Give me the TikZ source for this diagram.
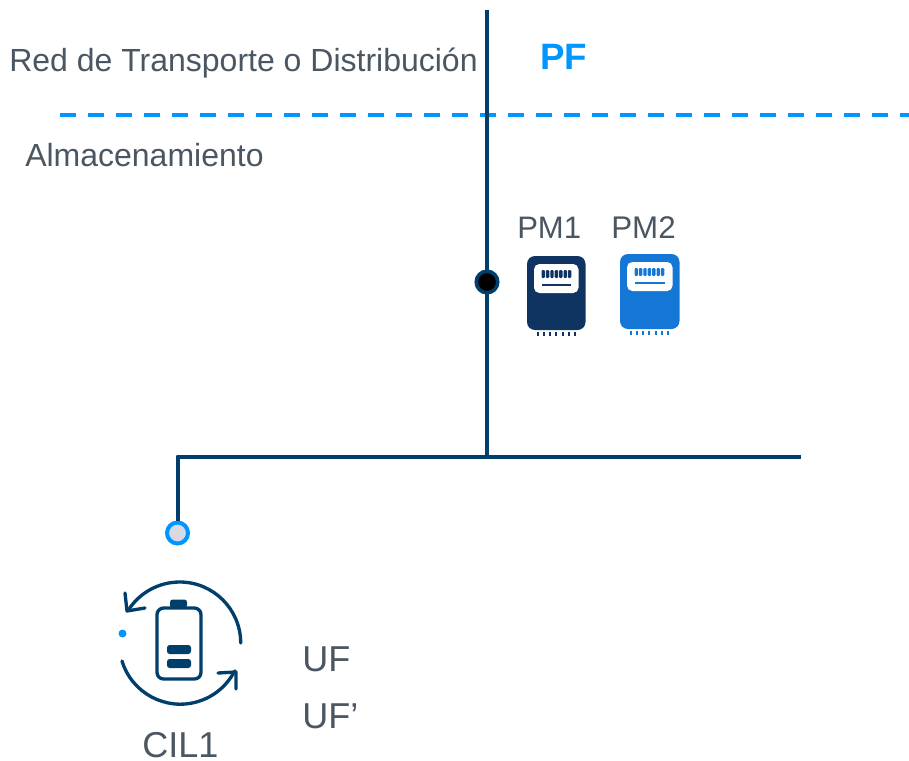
\documentclass[tikz,border=0pt]{standalone}
\usepackage{fontspec}
\setmainfont{Liberation Sans}
\definecolor{navy}{HTML}{003F6B}
\definecolor{skyb}{HTML}{0096FF}
\definecolor{txt}{HTML}{4A5661}
\definecolor{pmone}{HTML}{103461}
\definecolor{pmtwo}{HTML}{1477D6}
\definecolor{soft}{HTML}{D9D9E3}
\newcommand{\meter}[5]{% x, y (top-left), width, height, colour
  \begin{scope}[shift={(#1,#2)}]
    \fill[#5,rounded corners=6] (0,0) rectangle (#3,#4);
    \fill[white,rounded corners=4] (7,8) rectangle (#3-7,37);
    \foreach \k in {0,...,6}{
      \fill[#5,rounded corners=0.8] (14.5+\k*4.4,14) rectangle ++(3.4,8);
      \fill[#5] (9.5+\k*6.3,#4+1.5) rectangle ++(2,4);
    }
    \draw[#5,line width=1.6pt] (15,29) -- (#3-15,29);
  \end{scope}}
\tikzset{
  x=0.75pt,y=-0.75pt,
  lbl/.style={anchor=base west,inner sep=0pt,text=txt},
  busline/.style={navy,line width=3pt},
  iconline/.style={navy,line width=2.5pt,line cap=round,line join=round},
}
\begin{document}
\begin{tikzpicture}
\useasboundingbox (0,0) rectangle (909,760);
\coordinate (top) at (487,10);
\coordinate (tee) at (487,456);
\coordinate (busL) at (177.5,456.5);
\coordinate (busR) at (801,456.5);
\coordinate (dashL) at (59.5,114.5);
\coordinate (dashR) at (909,114.5);
\draw[skyb,line width=3pt,dash pattern=on 12pt off 9pt] (dashL) -- (dashR);
\draw[busline] (top) -- (tee);
\node[circle,draw=skyb,fill=soft,line width=3pt,minimum size=21*0.75pt,inner sep=0pt] (term) at (177.5,533) {};
\draw[busline,line join=round] (term) -- (busL) -- (busR);
\node[circle,draw=navy,fill=black,line width=2.7pt,minimum size=21.5*0.75pt,inner sep=0pt] (pcc) at (487,282) {};

\node[lbl,font=\fontsize{24}{28}\selectfont] (red) at (9,71) {Red de Transporte o Distribución};
\node[lbl,font=\fontsize{27.5}{32}\selectfont\bfseries,text=skyb] (pf) at (540,69) {PF};
\node[lbl,font=\fontsize{24}{28}\selectfont] (alm) at (25,166) {Almacenamiento};
\node[lbl,font=\fontsize{23.3}{28}\selectfont] (pm1) at (517,238.5) {PM1};
\node[lbl,font=\fontsize{23.5}{28}\selectfont] (pm2) at (611,238.5) {PM2};
\node[lbl,font=\fontsize{27}{32}\selectfont] (uf) at (302,671) {UF};
\node[lbl,font=\fontsize{27}{32}\selectfont] (ufp) at (302,728) {UF’};
\node[lbl,font=\fontsize{27}{32}\selectfont] (cil) at (142,757.5) {CIL1};

\meter{527}{256}{58.5}{74}{pmone}
\meter{620}{254}{59.5}{75}{pmtwo}

% storage icon
\draw[iconline,rounded corners=5] (157,640) -- (157,679) -- (201,679) -- (201,608) -- (157,608) -- cycle;
\fill[navy,rounded corners=2] (170,599.5) rectangle (187,608);
\fill[navy,rounded corners=2] (167,645) rectangle (191,654);
\fill[navy,rounded corners=2] (167,659) rectangle (191,668);
\draw[iconline] (240.7,643) arc[start angle=0,end angle=-148,radius=61];
\draw[iconline] (125,593) -- (127,611) -- (145,608);
\draw[iconline] (122,661) arc[start angle=163,end angle=27,radius=61];
\draw[iconline] (218,673) -- (236,672) -- (236,689);
\fill[skyb] (122.5,633.5) circle[radius=4];
\end{tikzpicture}
\end{document}
